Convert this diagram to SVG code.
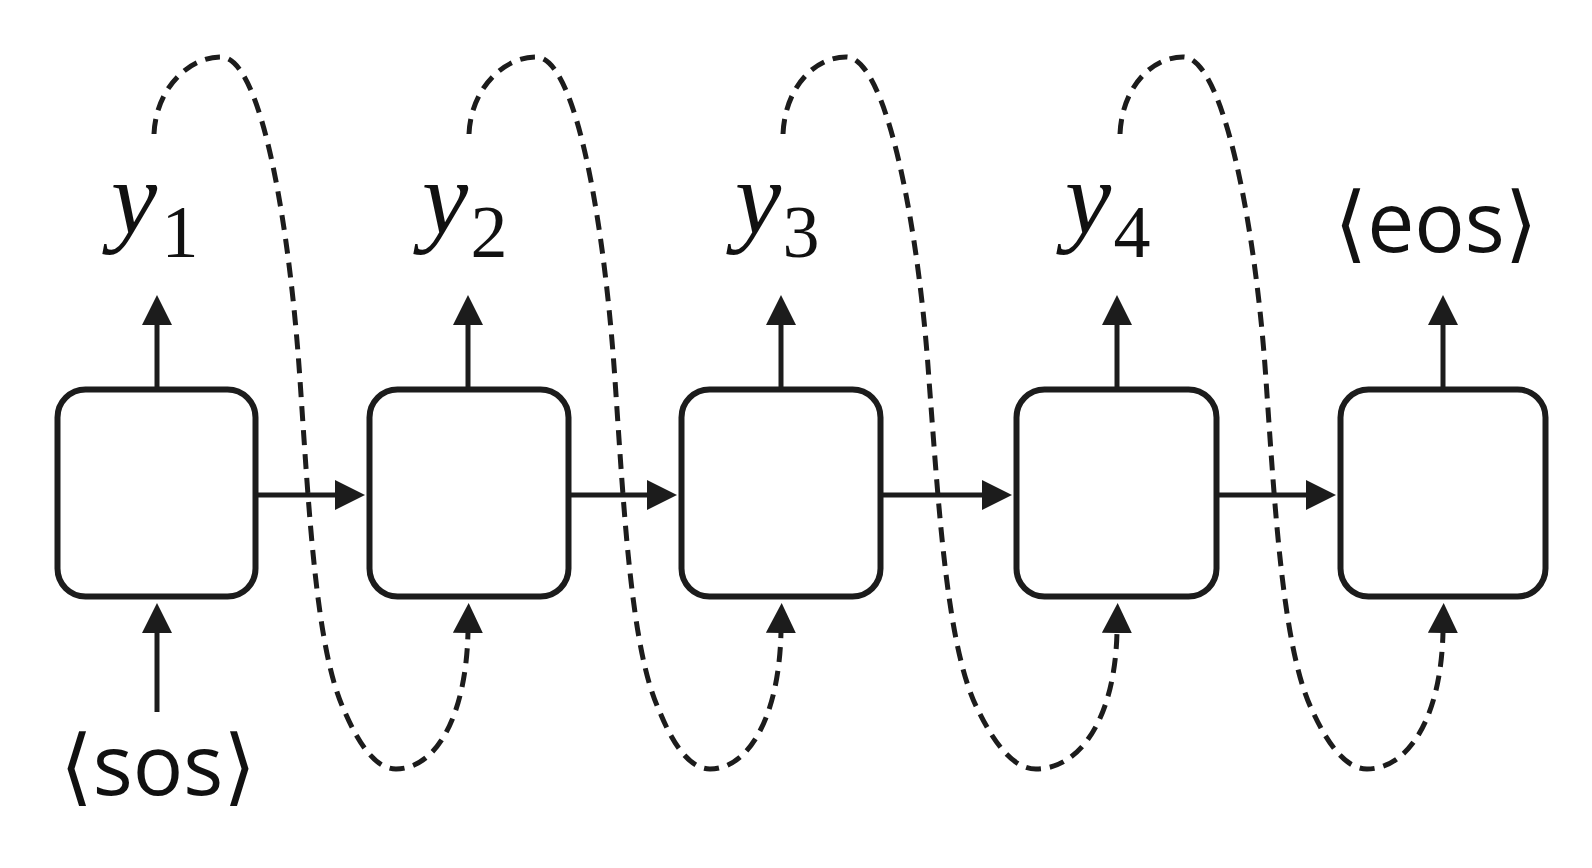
<svg xmlns="http://www.w3.org/2000/svg" width="1592" height="868" viewBox="0 0 1592 868">
<defs>
<style>
.box{fill:#fff;stroke:#1c1c1c;stroke-width:6}
.arr{fill:none;stroke:#1c1c1c;stroke-width:5;marker-end:url(#ah)}
.dash{fill:none;stroke:#1c1c1c;stroke-width:5;stroke-dasharray:15 9;marker-end:url(#ah)}
.tok{font-family:"Open Sans","DejaVu Sans",sans-serif;font-size:84px;fill:#111;text-anchor:middle}
.my{font-family:"Liberation Serif",serif;font-style:italic;font-size:104px;fill:#111;text-anchor:middle}
.sub{font-family:"Liberation Serif",serif;font-size:74px;fill:#111;text-anchor:middle}
</style>
<marker id="ah" viewBox="0 0 30 30" refX="1" refY="15" markerWidth="30" markerHeight="30" markerUnits="userSpaceOnUse" orient="auto">
<path d="M0,0 L30,15 L0,30 z" fill="#1c1c1c"/>
</marker>
</defs>
<rect width="1592" height="868" fill="#fff"/>
<g id="connectors">
<path class="dash" d="M154,134 C156,88 189,57 221,57 C262,57 290,230 300,380 C309,510 316,650 344,710 C359,745 376,769 396,769 C434,769 466,720 468,632"/>
<path class="dash" d="M469,134 C471,88 504,57 536,57 C577,57 605,230 615,380 C624,510 631,650 659,710 C673,745 690,769 710,769 C747,769 779,720 781,632"/>
<path class="dash" d="M783,134 C785,88 814,57 846,57 C887,57 919,230 929,380 C939,510 947,650 978,710 C995,745 1014,769 1036,769 C1079,769 1115,720 1117,632"/>
<path class="dash" d="M1120,134 C1122,88 1151,57 1183,57 C1224,57 1256,230 1266,380 C1275,510 1283,650 1312,710 C1328,745 1346,769 1367,769 C1407,769 1441,720 1443,632"/>
<path class="arr" d="M258,495 H336"/>
<path class="arr" d="M571,495 H648"/>
<path class="arr" d="M883,495 H983"/>
<path class="arr" d="M1219,495 H1307"/>
<path class="arr" d="M157,388 V324"/>
<path class="arr" d="M468,388 V324"/>
<path class="arr" d="M781,388 V324"/>
<path class="arr" d="M1117,388 V324"/>
<path class="arr" d="M1443,388 V324"/>
<path class="arr" d="M157,712 V632"/>
</g>
<g id="node1"><rect class="box" x="57.5" y="389.5" width="198" height="207" rx="28"/></g>
<g id="node2"><rect class="box" x="369.5" y="389.5" width="199" height="207" rx="28"/></g>
<g id="node3"><rect class="box" x="681.5" y="389.5" width="199" height="207" rx="28"/></g>
<g id="node4"><rect class="box" x="1016.5" y="389.5" width="200" height="207" rx="28"/></g>
<g id="node5"><rect class="box" x="1340.5" y="389.5" width="205" height="207" rx="28"/></g>
<g id="label-y1"><text class="my" x="134" y="233">y</text><text class="sub" x="180" y="257">1</text></g>
<g id="label-y2"><text class="my" x="445" y="233">y</text><text class="sub" x="489" y="257">2</text></g>
<g id="label-y3"><text class="my" x="758" y="233">y</text><text class="sub" x="801" y="257">3</text></g>
<g id="label-y4"><text class="my" x="1088" y="233">y</text><text class="sub" x="1132" y="257">4</text></g>
<g id="label-eos"><text class="tok" x="1436" y="252">⟨eos⟩</text></g>
<g id="label-sos"><text class="tok" x="158" y="795">⟨sos⟩</text></g>
</svg>
